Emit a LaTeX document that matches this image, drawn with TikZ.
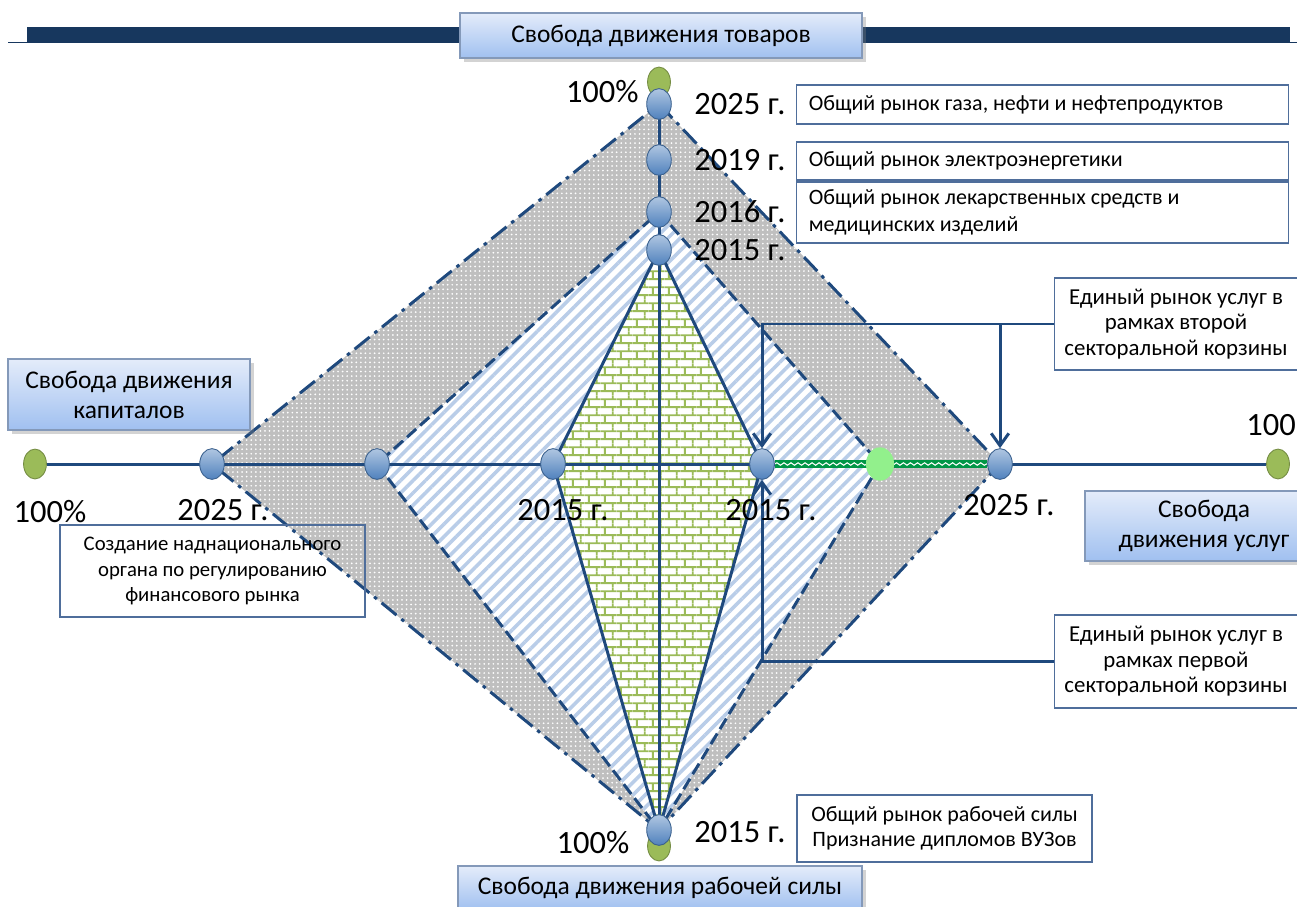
\documentclass[tikz,border=0pt]{standalone}
\usepackage{fontspec}
\setmainfont{Carlito}
\usepackage{tikz}
\usetikzlibrary{calc,positioning,arrows.meta,backgrounds,shadows}
\usetikzlibrary{shapes.geometric}
\usetikzlibrary{patterns,patterns.meta}
\usetikzlibrary{decorations.pathmorphing}
\definecolor{navy}{RGB}{23,55,94}
\definecolor{axisblue}{RGB}{31,73,125}
\definecolor{dotblue}{RGB}{79,129,189}
\definecolor{dotgreen}{RGB}{155,187,89}
\definecolor{lightgr}{RGB}{146,240,140}
\definecolor{boxline}{RGB}{79,110,155}
\definecolor{hatchblue}{RGB}{185,205,232}
\definecolor{brickgreen}{RGB}{155,187,89}
\definecolor{seggreen}{RGB}{0,150,70}
\definecolor{titletop}{RGB}{228,236,250}
\definecolor{titlebot}{RGB}{160,192,240}
\pgfdeclarepatternformonly{smallbricks}{\pgfpointorigin}{\pgfqpoint{9pt}{9pt}}{\pgfqpoint{9pt}{9pt}}{
	\pgfsetlinewidth{1.1pt}
	\pgfpathmoveto{\pgfqpoint{0pt}{2.25pt}}\pgfpathlineto{\pgfqpoint{9pt}{2.25pt}}
	\pgfpathmoveto{\pgfqpoint{0pt}{6.75pt}}\pgfpathlineto{\pgfqpoint{9pt}{6.75pt}}
	\pgfpathmoveto{\pgfqpoint{2.25pt}{2.25pt}}\pgfpathlineto{\pgfqpoint{2.25pt}{6.75pt}}
	\pgfpathmoveto{\pgfqpoint{6.75pt}{6.75pt}}\pgfpathlineto{\pgfqpoint{6.75pt}{9pt}}
	\pgfpathmoveto{\pgfqpoint{6.75pt}{0pt}}\pgfpathlineto{\pgfqpoint{6.75pt}{2.25pt}}
	\pgfusepath{stroke}
}
\tikzstyle{axis}     = [axisblue, line width=1.7pt]
\tikzstyle{arrow}    = [axisblue, line width=1.7pt, -{Straight Barb[length=7pt,width=10pt]}]
\tikzstyle{bluedot}  = [ellipse, draw=dotblue!75!black, line width=0.5pt, top color=dotblue!45!white, bottom color=dotblue, minimum width=14pt, minimum height=17.5pt, inner sep=0pt]
\tikzstyle{greendot} = [ellipse, draw=dotgreen!75!black, line width=0.5pt, fill=dotgreen, minimum width=13pt, minimum height=17pt, inner sep=0pt]
\tikzstyle{lightdot} = [ellipse, fill=lightgr, minimum width=16pt, minimum height=19pt, inner sep=0pt]
\tikzstyle{titlebox} = [draw=boxline!70, line width=0.7pt, top color=titletop, bottom color=titlebot, drop shadow={opacity=0.35}, font=\fontsize{14.5}{17}\selectfont, align=center, inner sep=0pt]
\tikzstyle{infobox}  = [draw=boxline, line width=0.8pt, fill=white, font=\fontsize{13}{14.5}\selectfont, align=center, inner sep=0pt]
\tikzstyle{leftbox}  = [infobox, font=\fontsize{12.5}{15}\selectfont, align=flush left, text width=266pt, inner xsep=7pt]
\tikzstyle{yr}       = [font=\fontsize{18.5}{21}\selectfont, inner sep=0pt]
\tikzset{
	graydots/.style={preaction={fill=black!25}, pattern={Dots[distance=2.6pt,radius=0.55pt]}, pattern color=white},
	hatch/.style={preaction={fill=white}, pattern={Lines[angle=45,distance=5pt,line width=2pt]}, pattern color=hatchblue},
	brick/.style={preaction={fill=white}, pattern=smallbricks, pattern color=brickgreen},
	outline/.style={axis, dash pattern=on 11pt off 3.5pt on 2pt off 3.5pt},
	midline/.style={axis, dash pattern=on 7pt off 3pt},
}

\begin{document}
\begin{tikzpicture}[x=0.02cm, y=-0.02cm]
	\useasboundingbox (0,0) rectangle (1297,906);

	\fill[navy] (27,27) rectangle (1290,43);
	\draw[navy, line width=0.6pt] (8,42.5) -- (27,42.5) (1290,42.5) -- (1297,42.5);

	\node[titlebox, minimum width=8.04cm, minimum height=0.9cm] (Tov) at (661,35.5) {Свобода движения товаров};
	\node[titlebox, minimum width=4.84cm, minimum height=1.42cm] (Kap) at (129,394.5) {Свобода движения\\капиталов};
	\node[titlebox, minimum width=4.76cm, minimum height=1.4cm] (Usl) at (1204,526) {Свобода\\движения услуг};
	\node[titlebox, minimum width=8.08cm, minimum height=0.88cm] (Rab) at (660,888) {Свобода движения рабочей силы};

	\node[greendot] (T100) at (659,82) {};
	\node[bluedot] (T25) at (659,104) {};
	\node[bluedot] (T19) at (659,160) {};
	\node[bluedot] (T16) at (659,212) {};
	\node[bluedot] (T15) at (659,250) {};
	\node[greendot] (B100) at (659,846) {};
	\node[bluedot] (B15) at (659,830) {};
	\node[greendot] (L100) at (35,464) {};
	\node[bluedot] (L25) at (212,464) {};
	\node[bluedot] (L20) at (377,464) {};
	\node[bluedot] (L15) at (553,464) {};
	\node[bluedot] (R15) at (762,464) {};
	\node[lightdot] (R20) at (880,464) {};
	\node[bluedot] (R25) at (1000,464) {};
	\node[greendot] (R100) at (1278,464) {};

	\begin{scope}[on background layer]
		\fill[graydots] (T25.center) -- (R25.center) -- (B15.center) -- (L25.center) -- cycle;
		\fill[hatch] (T16.center) -- (R20.center) -- (B15.center) -- (L20.center) -- cycle;
		\fill[brick] (T15.center) -- (R15.center) -- (B15.center) -- (L15.center) -- cycle;
		\draw[axis] (L100) -- (R100);
		\draw[axis] (T100) -- (B100);
		\draw[outline] (T25.center) -- (R25.center) -- (B15.center) -- (L25.center) -- cycle;
		\draw[midline] (T16.center) -- (R20.center) -- (B15.center) -- (L20.center) -- cycle;
		\draw[axis] (T15.center) -- (R15.center) -- (B15.center) -- (L15.center) -- cycle;
		\draw[seggreen, line width=4pt] (R15) -- (R25);
		\draw[white, line width=0.6pt, decorate, decoration={snake, amplitude=0.7pt, segment length=4pt}] (R15) -- (R25);
	\end{scope}

	\node[leftbox, minimum height=0.78cm] (gas) at (1042.5,104.5) {Общий рынок газа, нефти и нефтепродуктов};
	\node[leftbox, minimum height=0.76cm] (elec) at (1042.5,161) {Общий рынок электроэнергетики};
	\node[leftbox, minimum height=1.22cm] (med) at (1042.5,212.5) {Общий рынок лекарственных средств и\\медицинских изделий};
	\node[infobox, fill=none, font=\fontsize{11.8}{14.5}\selectfont, minimum width=6.1cm, minimum height=1.84cm] (fin) at (212.5,571) {Создание наднационального\\органа по регулированию\\финансового рынка};
	\node[infobox, minimum width=4.86cm, minimum height=1.84cm] (bask2) at (1176,324) {Единый рынок услуг в\\рамках второй\\секторальной корзины};
	\node[infobox, minimum width=4.86cm, minimum height=1.86cm] (bask1) at (1176,661.5) {Единый рынок услуг в\\рамках первой\\секторальной корзины};
	\node[infobox, font=\fontsize{12.5}{14}\selectfont, minimum width=5.9cm, minimum height=1.34cm] (lab) at (944.5,828.5) {Общий рынок рабочей силы\\Признание дипломов ВУЗов};

	\draw[arrow] (bask2.west) -| (R15.north);
	\draw[arrow] (R25 |- bask2.west) -- (R25.north);
	\draw[arrow] (bask1.west) -| (R15.south);

	\node[yr, anchor=east] (tp) at (639,92) {100\%};
	\node[yr, anchor=west] (t25) at (694,104) {2025 г.};
	\node[yr, anchor=west] (t19) at (694,160) {2019 г.};
	\node[yr, anchor=west] (t16) at (694,212) {2016 г.};
	\node[yr, anchor=west] (t15) at (694,250) {2015 г.};
	\node[yr] (lp) at (50,512) {100\%};
	\node[yr] (l25) at (223,510) {2025 г.};
	\node[yr] (l15) at (563,510) {2015 г.};
	\node[yr] (r15) at (771,510) {2015 г.};
	\node[yr] (r25) at (1009,505) {2025 г.};
	\node[yr, anchor=west] (rp) at (1246,425) {100};
	\node[yr] (bp) at (593,843) {100\%};
	\node[yr, anchor=west] (b15) at (694,832) {2015 г.};
\end{tikzpicture}
\end{document}
